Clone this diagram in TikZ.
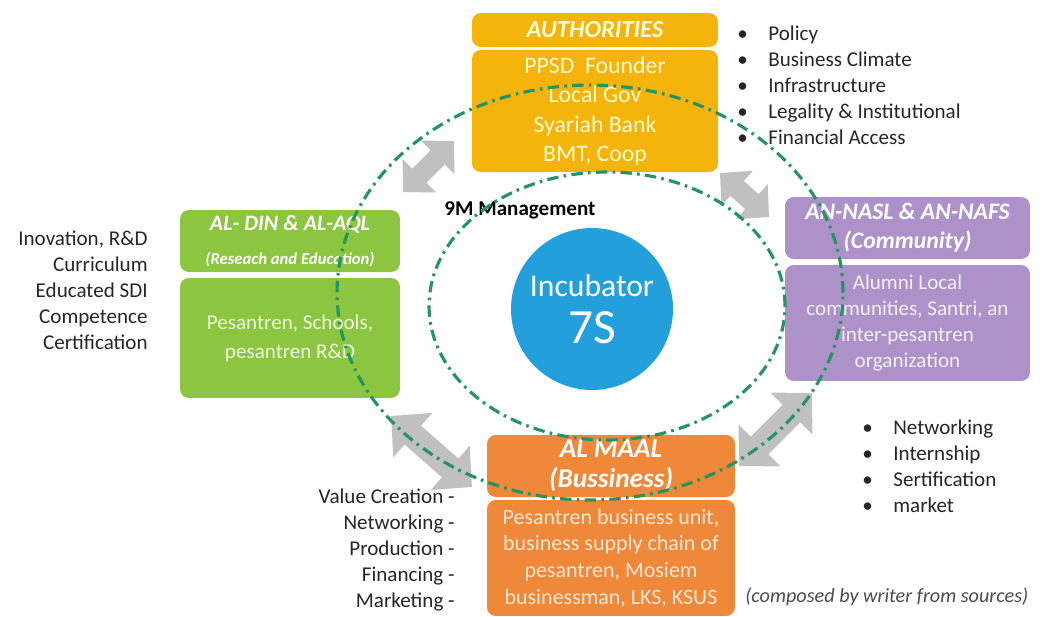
\documentclass[tikz,border=0pt]{standalone}
\usepackage{fontspec}
\setmainfont{Carlito}
\usepackage{tikz}
\usetikzlibrary{arrows.meta}

\definecolor{authcol}{RGB}{245,180,12}
\definecolor{dincol}{RGB}{140,198,64}
\definecolor{naslcol}{RGB}{172,146,201}
\definecolor{maalcol}{RGB}{240,136,58}
\definecolor{inccol}{RGB}{35,160,220}
\definecolor{ringcol}{RGB}{36,148,98}
\definecolor{arrcol}{RGB}{192,192,192}

\newcommand{\bul}{\makebox[0.62cm][l]{\textbullet}}

\begin{document}
\begin{tikzpicture}[x=0.02cm, y=-0.02cm,
	mybox/.style={rounded corners=5pt, align=center, inner sep=0pt},
	myhead/.style={mybox, font=\bfseries\itshape},
	mylist/.style={inner sep=0pt, text=black!85, font=\fontsize{12}{14.8}\selectfont},
	myarrow/.style={draw=arrcol, line width=0.4cm, {Triangle[length=0.46cm,width=0.92cm]}-{Triangle[length=0.46cm,width=0.92cm]}},
	bigarrow/.style={draw=arrcol, line width=0.5cm, {Triangle[length=0.58cm,width=1.15cm]}-{Triangle[length=0.58cm,width=1.15cm]}},
	myring/.style={draw=ringcol, line width=1.8pt, dash pattern=on 6.5pt off 3pt on 1.5pt off 3pt}
	]
	\useasboundingbox (0,0) rectangle (1048,616);

	% authorities
	\node[myhead, fill=authcol, minimum width=4.92cm, minimum height=0.68cm, text={white!85!yellow}, font=\fontsize{14}{17}\selectfont\bfseries\itshape] (authH) at (595,30) {AUTHORITIES};
	\node[mybox, fill=authcol, minimum width=4.92cm, minimum height=2.44cm, text={white!80!yellow}, font=\fontsize{13.5}{16.8}\selectfont] (authB) at (595,111) {PPSD\ \ Founder\\Local Gov\\Syariah Bank\\BMT, Coop};

	% al-din
	\node[myhead, fill=dincol, minimum width=4.4cm, minimum height=1.24cm, text=white, font=\fontsize{12.5}{19}\selectfont\bfseries\itshape] (dinH) at (290,241) {AL- DIN \& AL-AQL\\{\fontsize{9.5}{12}\selectfont (Reseach and Education)}};
	\node[mybox, fill=dincol, minimum width=4.4cm, minimum height=2.4cm, text={white!85!dincol}, font=\fontsize{12}{16.5}\selectfont] (dinB) at (290,338) {Pesantren, Schools,\\pesantren R\&D};

	% an-nasl
	\node[myhead, fill=naslcol, minimum width=4.9cm, minimum height=1.24cm, text=white, font=\fontsize{13.5}{16.4}\selectfont\bfseries\itshape] (naslH) at (907.5,228) {AN-NASL \& AN-NAFS\\(Community)};
	\node[mybox, fill=naslcol, minimum width=4.9cm, minimum height=2.32cm, text={white!85!naslcol}, font=\fontsize{12}{14.9}\selectfont] (naslB) at (907.5,323) {Alumni Local\\communities, Santri, an\\inter-pesantren\\organization};

	% al-maal
	\node[myhead, fill=maalcol, minimum width=4.96cm, minimum height=1.24cm, text=white, font=\fontsize{15.5}{17}\selectfont\bfseries\itshape] (maalH) at (611,466) {AL MAAL\\(Bussiness)};
	\node[mybox, fill=maalcol, minimum width=4.96cm, minimum height=2.32cm, text={white!80!maalcol}, font=\fontsize{12.5}{15.1}\selectfont] (maalB) at (611,558) {Pesantren business unit,\\business supply chain of\\pesantren, Mosiem\\businessman, LKS, KSUS};

	% incubator
	\node[circle, fill=inccol, minimum size=3.24cm, inner sep=0pt, align=center, text=white, font=\fontsize{18}{27}\selectfont] (inc) at (592,309) {Incubator\\{\fontsize{28}{30}\selectfont 7S}};

	% side texts
	\node[inner sep=0pt, font=\fontsize{12}{14}\selectfont\bfseries] (mgmt) at (520,210) {9M Management};
	\node[mylist, anchor=west, align=left] (authL) at (737,85) {\bul Policy\\\bul Business Climate\\\bul Infrastructure\\\bul Legality \& Institutional\\\bul Financial Access};
	\node[mylist, anchor=east, align=right] (dinL) at (148,290) {Inovation, R\&D\\Curriculum\\Educated SDI\\Competence\\Certification};
	\node[mylist, anchor=west, align=left] (naslL) at (862,466) {\bul Networking\\\bul Internship\\\bul Sertification\\\bul market};
	\node[mylist, anchor=east, align=right] (maalL) at (455,550) {Value Creation -\\Networking -\\Production -\\Financing -\\Marketing -};
	\node[inner sep=0pt, anchor=west, text=black!70, font=\fontsize{11.5}{13}\selectfont\itshape] (src) at (745,597) {(composed by writer from sources)};

	% arrows
	\coordinate (tl1) at (403,192); \coordinate (tl2) at (454,141);
	\coordinate (tr1) at (720,173); \coordinate (tr2) at (769,217);
	\coordinate (bl1) at (391,416); \coordinate (bl2) at (472,487);
	\coordinate (br1) at (739,466); \coordinate (br2) at (812,393);
	\draw[myarrow] (tl1) -- (tl2);
	\draw[myarrow] (tr1) -- (tr2);
	\draw[bigarrow] (bl1) -- (bl2);
	\draw[bigarrow] (br1) -- (br2);

	% 9M rings
	\draw[myring] (590,292.5) ellipse [x radius=5.06cm, y radius=4.15cm];
	\draw[myring] (607,306) ellipse [x radius=3.56cm, y radius=2.68cm];
\end{tikzpicture}
\end{document}
